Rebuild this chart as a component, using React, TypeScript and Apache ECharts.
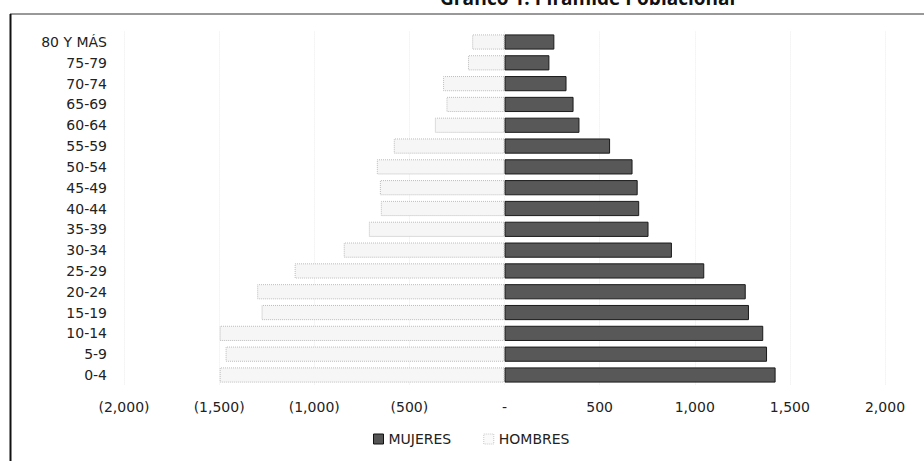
import React, { useEffect, useRef } from "react";
import * as echarts from "echarts";

const categories = [
  "0-4", "5-9", "10-14", "15-19", "20-24", "25-29", "30-34", "35-39", "40-44",
  "45-49", "50-54", "55-59", "60-64", "65-69", "70-74", "75-79", "80 Y MÁS",
];
const mujeres = [1425, 1380, 1360, 1285, 1268, 1050, 880, 757, 708, 700, 673, 555, 394, 363, 326, 236, 262];
const hombres = [1497, 1466, 1497, 1277, 1300, 1103, 845, 713, 650, 655, 671, 582, 366, 305, 323, 192, 170];
const xTicks = { min: -2000, max: 2000, interval: 500 };
const titleText = "Gráfico 1: Pirámide Poblacional";

function fmt(v: number): string {
  if (v === 0) return "-";
  const s = Math.abs(v).toLocaleString("en-US");
  return v < 0 ? `(${s})` : s;
}

export default function App() {
  const ref = useRef<HTMLDivElement>(null);
  useEffect(() => {
    document.body.style.margin = "0";
    const chart = echarts.init(ref.current!, null, { renderer: "svg" });
    const font = "'DejaVu Sans', 'Open Sans', sans-serif";
    chart.setOption({
      animation: false,
      backgroundColor: "#ffffff",
      textStyle: { fontFamily: font },
      graphic: [
        {
          type: "text",
          left: 440,
          top: -12,
          style: { text: titleText, fontSize: 19, fontWeight: "bold", fill: "#111", fontFamily: "'Open Sans', sans-serif" },
        },
        { type: "line", shape: { x1: 10, y1: 14, x2: 924, y2: 14 }, style: { stroke: "#333", lineWidth: 1 } },
        { type: "line", shape: { x1: 10.5, y1: 14, x2: 10.5, y2: 461 }, style: { stroke: "#111", lineWidth: 2 } },
      ],
      legend: {
        bottom: 10,
        left: 368,
        icon: "rect",
        itemWidth: 10,
        itemHeight: 10,
        itemGap: 32,
        textStyle: { fontSize: 14, color: "#222", fontFamily: font },
        data: [
          { name: "MUJERES", itemStyle: { color: "#555", borderColor: "#111", borderWidth: 1 } },
          { name: "HOMBRES", itemStyle: { color: "#fafafa", borderColor: "#c8c8c8", borderWidth: 1, borderType: "dotted" } },
        ],
      },
      grid: { left: 124, right: 39, top: 31.6, bottom: 75.6, containLabel: false, outerBoundsMode: "none" },
      xAxis: {
        type: "value",
        min: xTicks.min,
        max: xTicks.max,
        interval: xTicks.interval,
        axisLine: { show: false },
        axisTick: { show: false },
        splitLine: { show: true, lineStyle: { color: "#ececec", type: "dotted" } },
        axisLabel: { formatter: fmt, fontSize: 14, color: "#222", margin: 15, fontFamily: font },
      },
      yAxis: {
        type: "category",
        data: categories,
        axisLine: { show: false, onZero: false },
        axisTick: { show: false },
        axisLabel: { fontSize: 14, color: "#222", margin: 17, fontFamily: font },
      },
      series: [
        {
          name: "MUJERES",
          type: "bar",
          stack: "p",
          barCategoryGap: "27%",
          data: mujeres,
          itemStyle: { color: "#585858", borderColor: "#1a1a1a", borderWidth: 1 },
        },
        {
          name: "HOMBRES",
          type: "bar",
          stack: "p",
          barCategoryGap: "27%",
          data: hombres.map((v) => -v),
          itemStyle: { color: "#f6f6f6", borderColor: "#bdbdbd", borderWidth: 1, borderType: "dotted" },
        },
      ],
    });
    return () => chart.dispose();
  }, []);
  return <div ref={ref} style={{ width: 924, height: 461 }} />;
}
